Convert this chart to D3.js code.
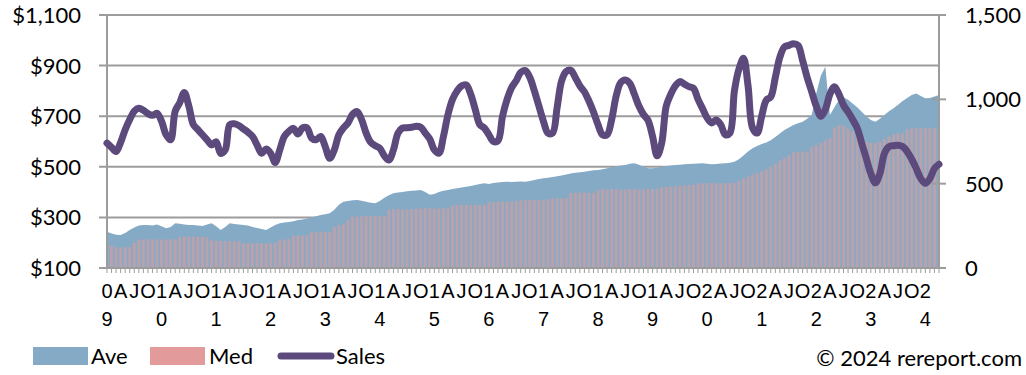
<!DOCTYPE html>
<html>
<head>
<meta charset="utf-8">
<script src="https://cdn.jsdelivr.net/npm/d3@7"></script>
<style>
  html, body { margin: 0; padding: 0; background: #fff; }
  svg { display: block; }
</style>
</head>
<body>
<svg id="chart" width="1026" height="375"></svg>
<script>
// Monthly series, Jan 2009 through Apr 2024
const startYear = 2009;
const quarterLetters = { 3: "A", 6: "J", 9: "O" };

// Average price ($)
const ave = [
  243, 236, 231, 230, 238, 250, 260, 268, 270, 270, 268, 272,
  265, 257, 262, 277, 275, 272, 270, 270, 268, 266, 272, 277,
  265, 250, 262, 277, 274, 272, 270, 268, 262, 258, 254, 250,
  260, 270, 277, 280, 282, 285, 290, 292, 296, 300, 305, 309,
  312, 316, 330, 350, 362, 365, 368, 369, 366, 362, 358, 356,
  365, 378, 388, 395, 398, 400, 403, 405, 406, 408, 400, 390,
  392, 400, 405, 408, 412, 415, 418, 421, 424, 428, 432, 435,
  432, 436, 438, 440, 441, 440, 441, 442, 441, 444, 448, 452,
  455, 457, 460, 463, 466, 470, 474, 476, 478, 480, 483, 486,
  487, 490, 494, 498, 502, 505, 507, 512, 514, 508, 500, 494,
  494, 496, 500, 503, 505, 507, 508, 510, 511, 512, 513, 514,
  512, 510, 511, 513, 514, 516, 520, 530, 545, 560, 573, 582,
  590, 596, 605, 618, 632, 645, 655, 665, 672, 678, 690, 705,
  790, 860, 895, 705, 735, 765, 775, 765, 750, 735, 718, 700,
  685, 678, 690, 705, 720, 731, 745, 760, 772, 784, 790, 780,
  771, 772, 778, 784
];

// Median price ($)
const med = [
  191, 190, 182, 181, 183, 182, 200, 212, 213, 214, 213, 213,
  212, 213, 214, 213, 222, 224, 225, 224, 223, 224, 222, 210,
  207, 208, 206, 207, 206, 205, 198, 198, 197, 198, 198, 197,
  198, 199, 212, 213, 214, 228, 229, 228, 230, 243, 242, 243,
  244, 243, 262, 270, 275, 290, 303, 304, 305, 305, 306, 305,
  305, 304, 330, 332, 333, 332, 331, 333, 334, 336, 337, 336,
  335, 336, 337, 336, 348, 349, 350, 349, 348, 350, 349, 350,
  360, 361, 362, 363, 362, 363, 364, 369, 368, 369, 370, 369,
  368, 372, 375, 376, 375, 376, 396, 398, 399, 398, 397, 398,
  408, 410, 411, 412, 411, 410, 411, 412, 412, 410, 411, 412,
  412, 413, 420, 421, 422, 423, 425, 427, 428, 430, 435, 434,
  435, 436, 435, 434, 436, 435, 437, 445, 455, 463, 470, 475,
  482, 490, 500, 512, 525, 535, 545, 558, 560, 561, 560, 578,
  585, 595, 605, 612, 655, 665, 663, 650, 640, 625, 610, 598,
  595, 593, 600, 610, 620, 628, 632, 632, 648, 652, 653, 652,
  654, 652, 653, 650
];

// Number of sales
const sales = [
  740, 715, 690, 745, 820, 880, 930, 947, 935, 915, 905, 917,
  870, 790, 760, 930, 980, 1040, 960, 850, 820, 790, 760, 730,
  748, 680, 700, 850, 855, 845, 825, 805, 780, 730, 680, 705,
  680, 625, 700, 780, 810, 828, 795, 830, 830, 770, 760, 780,
  720, 650, 700, 790, 830, 860, 910, 927, 880, 800, 745, 725,
  710, 665, 640, 700, 800, 830, 832, 835, 840, 835, 800, 765,
  700, 680, 780, 910, 1000, 1050, 1080, 1085, 1030, 940, 850, 830,
  790, 750, 755, 900, 1000, 1070, 1110, 1160, 1170, 1130, 1050, 960,
  870, 800, 800, 950, 1110, 1165, 1172, 1130, 1080, 1045, 990, 925,
  850, 790, 790, 880, 1020, 1100, 1115, 1095, 1030, 960, 910, 875,
  780, 665, 740, 960, 1030, 1080, 1105, 1090, 1075, 1065, 1000, 945,
  890, 860, 877, 850, 790, 800, 1050, 1180, 1243, 1080, 830, 800,
  900, 995, 1015, 1130, 1250, 1310, 1320, 1330, 1320, 1230, 1130, 1045,
  960, 900, 940, 1030, 1075, 1030, 965, 925, 880, 830, 740, 650,
  560, 505, 560, 680, 720, 725, 728, 720, 690, 645, 590, 530,
  502, 530, 590, 615
];

const leftTicks = [100, 300, 500, 700, 900, 1100];
const rightTicks = [0, 500, 1000, 1500];

const colors = { ave: "#84aac6", med: "#e39a9a", sales: "#5c4a7d", grid: "#9c9c9c", text: "#000" };

const svg = d3.select("#chart");
const plot = { left: 107, right: 939, top: 15, bottom: 268 };
const n = sales.length;
const idx = d3.range(n);

const x = d3.scalePoint().domain(idx).range([plot.left, plot.right]);
const step = x.step();
const yL = d3.scaleLinear().domain([100, 1100]).range([plot.bottom, plot.top]);
const yR = d3.scaleLinear().domain([0, 1500]).range([plot.bottom, plot.top]);

const defs = svg.append("defs");
defs.append("clipPath").attr("id", "plotClip")
  .append("rect").attr("x", plot.left).attr("y", plot.top - 10)
  .attr("width", plot.right - plot.left).attr("height", plot.bottom - plot.top + 10);
defs.append("filter").attr("id", "soft").attr("x", "-2%").attr("y", "-5%").attr("width", "104%").attr("height", "110%")
  .append("feGaussianBlur").attr("stdDeviation", 0.7);

// horizontal gridlines with outward ticks on the left
svg.append("g").selectAll("line").data(leftTicks).join("line")
  .attr("x1", plot.left - 8).attr("x2", plot.right)
  .attr("y1", d => yL(d)).attr("y2", d => yL(d))
  .attr("stroke", colors.grid).attr("stroke-width", 2);

// average price area
svg.append("path").datum(ave)
  .attr("clip-path", "url(#plotClip)")
  .attr("filter", "url(#soft)")
  .attr("fill", colors.ave)
  .attr("d", d3.area().x((d, i) => x(i)).y0(yL(100)).y1(d => yL(d)));

// median price columns
const barW = step * 0.68;
svg.append("g").attr("clip-path", "url(#plotClip)")
  .selectAll("rect").data(med).join("rect")
  .attr("x", (d, i) => x(i) - barW / 2)
  .attr("width", barW)
  .attr("y", d => yL(d))
  .attr("height", d => yL(100) - yL(d))
  .attr("fill", colors.med)
  .attr("fill-opacity", 0.55);

// axis frame lines
svg.append("line").attr("x1", plot.left).attr("x2", plot.left).attr("y1", plot.top).attr("y2", plot.bottom)
  .attr("stroke", colors.grid).attr("stroke-width", 2);
svg.append("line").attr("x1", plot.right).attr("x2", plot.right).attr("y1", plot.top).attr("y2", plot.bottom)
  .attr("stroke", colors.grid).attr("stroke-width", 2);
svg.append("line").attr("x1", plot.left - 8).attr("x2", plot.right + 1).attr("y1", plot.bottom).attr("y2", plot.bottom)
  .attr("stroke", colors.grid).attr("stroke-width", 2);

// right axis ticks
svg.append("g").selectAll("line").data(rightTicks).join("line")
  .attr("x1", plot.right - 7).attr("x2", plot.right + 7)
  .attr("y1", d => yR(d)).attr("y2", d => yR(d))
  .attr("stroke", colors.grid).attr("stroke-width", 2);

// monthly tick marks
svg.append("g").selectAll("line").data(idx).join("line")
  .attr("x1", i => x(i)).attr("x2", i => x(i))
  .attr("y1", plot.bottom).attr("y2", plot.bottom + 5)
  .attr("stroke", colors.grid).attr("stroke-width", 1);

// sales line on the right axis
svg.append("path").datum(sales)
  .attr("fill", "none")
  .attr("stroke", colors.sales)
  .attr("stroke-width", 7)
  .attr("stroke-linejoin", "round")
  .attr("stroke-linecap", "round")
  .attr("d", d3.line().x((d, i) => x(i)).y(d => yR(d)).curve(d3.curveCatmullRom.alpha(0.5)));

// left axis labels
const fmt = d3.format(",");
const labelFont = "Lato, 'Open Sans', sans-serif";
svg.append("g").selectAll("text").data(leftTicks).join("text")
  .attr("x", 81).attr("y", d => yL(d)).attr("dy", "0.36em")
  .attr("text-anchor", "end")
  .attr("font-family", labelFont).attr("font-size", 22)
  .attr("fill", colors.text)
  .text(d => "$" + fmt(d));

// right axis labels
svg.append("g").selectAll("text").data(rightTicks).join("text")
  .attr("x", 965).attr("y", d => yR(d)).attr("dy", "0.36em")
  .attr("text-anchor", "start")
  .attr("font-family", labelFont).attr("font-size", 22)
  .attr("fill", colors.text)
  .text(d => fmt(d));

// month labels: year digits stacked on January, quarter letters elsewhere;
// a label that would sit on the right edge of the axis is dropped
const monthLabels = idx.filter(i => (i % 12 === 0 || quarterLetters[i % 12]) && x(i) < plot.right - step);
const xl = svg.append("g")
  .attr("font-family", "'Liberation Sans Narrow', 'Liberation Sans', Arial, sans-serif")
  .attr("font-size", 20).attr("fill", colors.text).attr("text-anchor", "middle");
monthLabels.forEach(i => {
  const m = i % 12;
  if (m === 0) {
    const yy = String(startYear + i / 12).slice(2);
    xl.append("text").attr("x", x(i)).attr("y", 298).text(yy[0]);
    xl.append("text").attr("x", x(i)).attr("y", 326).text(yy[1]);
  } else {
    xl.append("text").attr("x", x(i)).attr("y", 298).text(quarterLetters[m]);
  }
});

// legend
const lg = svg.append("g").attr("font-family", labelFont).attr("font-size", 22).attr("fill", colors.text);
lg.append("rect").attr("x", 33).attr("y", 347).attr("width", 55).attr("height", 18).attr("fill", colors.ave);
lg.append("text").attr("x", 91).attr("y", 364).text("Ave");
lg.append("rect").attr("x", 150).attr("y", 347).attr("width", 55).attr("height", 18).attr("fill", colors.med);
lg.append("text").attr("x", 209).attr("y", 364).text("Med");
lg.append("line").attr("x1", 281).attr("x2", 331).attr("y1", 356).attr("y2", 356)
  .attr("stroke", colors.sales).attr("stroke-width", 7).attr("stroke-linecap", "round");
lg.append("text").attr("x", 336).attr("y", 364).text("Sales");

svg.append("text").attr("x", 1022).attr("y", 366).attr("text-anchor", "end")
  .attr("font-family", labelFont).attr("font-size", 22).attr("fill", colors.text)
  .text("© 2024 rereport.com");
</script>
</body>
</html>
